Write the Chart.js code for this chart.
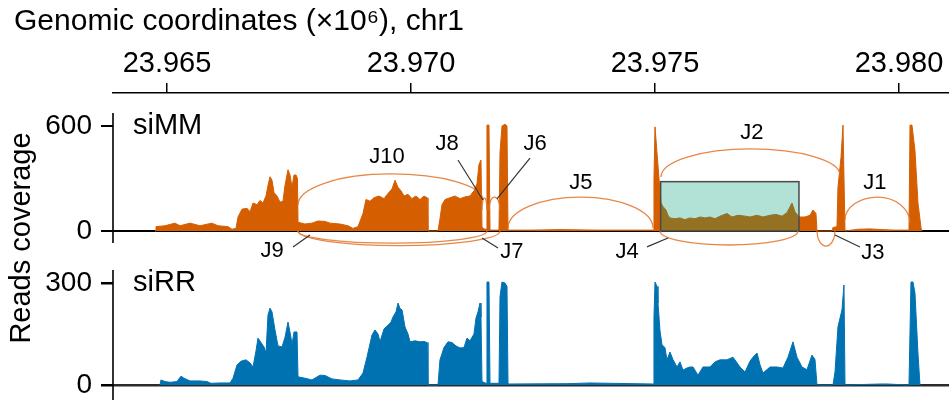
<!DOCTYPE html>
<html>
<head>
<meta charset="utf-8">
<script src="https://cdn.jsdelivr.net/npm/chart.js@4.4.1/dist/chart.umd.min.js"></script>
<style>
html,body{margin:0;padding:0;background:#fff;}
#wrap{width:949px;height:400px;position:relative;}
</style>
</head>
<body>
<div id="wrap"><canvas id="c"></canvas></div>
<script>
// ---------- data (genomic positions in bp, chr1) ----------
const xTickValues = [23965000, 23970000, 23975000, 23980000];
const xTickLabels = ['23.965', '23.970', '23.975', '23.980'];
const simmTicks = [0, 600];
const sirrTicks = [0, 300];

const simmPos = [23964755,23964775,23964959,23965164,23965267,23965472,23965677,23965922,23966045,23966250,
23966332,23966414,23966455,23966537,23966640,23966701,23966763,23966845,23966906,23966967,
23967029,23967070,23967111,23967152,23967193,23967254,23967316,23967377,23967418,23967480,
23967521,23967562,23967603,23967644,23967674,23967685,23967828,23967971,23968094,23968238,
23968340,23968545,23968709,23968812,23968914,23969016,23969078,23969160,23969242,23969344,
23969447,23969529,23969611,23969672,23969734,23969795,23969857,23969939,23970020,23970102,
23970184,23970266,23970328,23970348,23970553,23970594,23970635,23970697,23970799,23970902,
23971004,23971106,23971209,23971291,23971352,23971393,23971434,23971455,23971516,23971537,
23971557,23971598,23971619,23971803,23971824,23971865,23971926,23971967,23971988,23972438,
23973053,23973873,23974692,23974959,23974979,23975000,23975041,23975082,23975123,23975163,
23975225,23975266,23975307,23975409,23975512,23975614,23975717,23975819,23975922,23976024,
23976127,23976229,23976331,23976475,23976577,23976700,23976844,23976946,23977090,23977212,
23977356,23977479,23977602,23977704,23977807,23977868,23977950,23978073,23978176,23978237,
23978298,23978319,23978626,23978647,23978729,23978749,23978811,23978852,23978893,23979159,
23979405,23979651,23979917,23980204,23980225,23980265,23980327,23980388,23980450,23980470];
const simmCov = [0,25,30,45,30,45,30,45,30,25,
10,15,80,125,130,110,160,150,175,160,
200,260,310,290,220,200,165,170,260,350,
320,250,320,320,300,50,40,45,57,55,
45,40,30,15,25,100,180,170,190,200,
185,215,240,290,250,230,200,210,185,200,
180,200,190,0,0,70,150,180,190,200,
185,195,200,230,270,380,405,20,10,10,
605,605,5,5,450,600,610,600,5,5,
8,5,5,5,300,595,445,300,160,140,
120,90,75,70,75,65,75,70,80,75,
80,70,85,100,80,90,85,80,90,80,
90,95,85,105,160,110,80,80,90,120,
100,0,0,20,25,250,420,605,0,10,
12,8,5,5,605,605,460,160,20,0];

const sirrPos = [23964857,23964877,23964959,23965062,23965205,23965287,23965349,23965472,23965677,23965820,
23965902,23966086,23966291,23966353,23966435,23966517,23966619,23966701,23966763,23966824,
23966865,23966926,23966988,23967029,23967070,23967111,23967152,23967213,23967275,23967357,
23967418,23967480,23967541,23967562,23967603,23967664,23967685,23967828,23967971,23968135,
23968238,23968381,23968545,23968750,23968914,23969016,23969098,23969201,23969262,23969324,
23969365,23969447,23969529,23969590,23969631,23969693,23969734,23969775,23969816,23969877,
23969939,23969980,23970082,23970184,23970266,23970328,23970348,23970553,23970594,23970676,
23970758,23970840,23970922,23971004,23971086,23971147,23971209,23971291,23971332,23971373,
23971414,23971434,23971455,23971537,23971557,23971598,23971619,23971803,23971824,23971865,
23971926,23971967,23971988,23973217,23973668,23974959,23974979,23975000,23975041,23975061,
23975102,23975143,23975204,23975245,23975307,23975368,23975450,23975512,23975573,23975655,
23975717,23975778,23975881,23975983,23976127,23976229,23976331,23976475,23976598,23976741,
23976844,23976946,23977008,23977090,23977151,23977212,23977356,23977499,23977622,23977725,
23977827,23977909,23978012,23978114,23978216,23978278,23978319,23978647,23978688,23978749,
23978831,23978872,23978893,23979610,23979753,23980204,23980245,23980286,23980327,23980388,
23980429];
const sirrCov = [0,15,10,8,10,26,20,12,12,10,
5,6,6,20,59,70,74,65,53,100,
138,125,112,94,206,226,215,162,115,112,
140,185,140,118,156,156,24,20,15,29,
28,18,15,12,15,35,82,147,162,150,
127,165,176,185,200,215,241,225,221,171,
150,127,130,127,128,125,0,0,74,110,
127,125,115,109,110,138,130,150,197,215,
241,200,10,5,303,303,5,5,260,303,
300,290,3,4,6,3,200,303,290,241,
160,118,110,74,97,75,53,68,44,50,
53,53,29,53,53,68,74,74,82,53,
38,70,82,94,60,35,53,53,50,82,
127,82,53,45,88,75,0,0,38,171,
221,294,0,3,3,0,303,303,270,94,
0];

// splice junctions (siMM track): start/end in bp, coverage at ends, arc apex (negative = below axis)
const junctionNames = ['J1','J2','J3','J4','J5','J6','J7','J8','J9','J10'];
const junctionStart = [23978893,23975123,23978319,23975102,23971988,23971598,23967685,23971455,23967685,23967685];
const junctionEnd   = [23980225,23978790,23978688,23977930,23974959,23971824,23971824,23971557,23971557,23971475];
const junctionStartCov = [63,309,0,0,17,120,0,120,0,149];
const junctionEndCov   = [46,320,0,0,17,120,0,120,0,177];
const junctionApex     = [194,469,-86,-80,194,194,-83,189,-69,326];

// highlighted region
const boxStart = 23975116, boxEnd = 23977950, boxTop = 282;

// ---------- annotation layout (label anchor + optional leader line) ----------
const labelLayout = {
  J1:  {x: 23979507, y: 274},
  J2:  {x: 23976987, y: 560},
  J3:  {x: 23979466, y: -126, line: [23979200, -91, 23978688, -23]},
  J4:  {x: 23974426, y: -120, line: [23974836, -91, 23975266, -40]},
  J5:  {x: 23973483, y: 274},
  J6:  {x: 23972541, y: 497, line: [23972438, 417, 23971762, 183]},
  J7:  {x: 23972069, y: -120, line: [23971783, -97, 23971455, -40]},
  J8:  {x: 23970738, y: 497, line: [23970963, 406, 23971475, 177]},
  J9:  {x: 23967152, y: -114, line: [23967582, -91, 23967930, -23]},
  J10: {x: 23969508, y: 423}
};

const FONT = "'Liberation Sans', Arial, Helvetica, sans-serif";

function arcPath(ctx, x1, y1, x2, y2, ya) {
  const xm = (x1 + x2) / 2, k = 0.5523;
  ctx.moveTo(x1, y1);
  ctx.bezierCurveTo(x1, y1 + k * (ya - y1), xm - k * (xm - x1), ya, xm, ya);
  ctx.bezierCurveTo(xm + k * (x2 - xm), ya, x2, y2 + k * (ya - y2), x2, y2);
}

const overlay = {
  id: 'overlay',
  afterDatasetsDraw(chart) {
    const ctx = chart.ctx;
    const xs = chart.scales.x, ym = chart.scales.yMM, yr = chart.scales.yRR;
    ctx.save();
    // highlighted box
    const bx1 = xs.getPixelForValue(boxStart), bx2 = xs.getPixelForValue(boxEnd);
    const by1 = ym.getPixelForValue(boxTop), by0 = ym.getPixelForValue(0);
    ctx.fillStyle = 'rgba(0,158,115,0.3)';
    ctx.fillRect(bx1, by1, bx2 - bx1, by0 - by1);
    ctx.strokeStyle = '#4a4a4a';
    ctx.lineWidth = 1.5;
    ctx.strokeRect(bx1, by1, bx2 - bx1, by0 - by1);

    // junction arcs
    ctx.strokeStyle = 'rgba(226,115,40,0.85)';
    ctx.lineWidth = 1.3;
    for (let i = 0; i < junctionNames.length; i++) {
      ctx.beginPath();
      arcPath(ctx,
        xs.getPixelForValue(junctionStart[i]), ym.getPixelForValue(junctionStartCov[i]),
        xs.getPixelForValue(junctionEnd[i]), ym.getPixelForValue(junctionEndCov[i]),
        ym.getPixelForValue(junctionApex[i]));
      ctx.stroke();
    }

    // labels and leader lines
    ctx.fillStyle = '#000';
    ctx.font = '22px ' + FONT;
    ctx.textAlign = 'center';
    ctx.textBaseline = 'middle';
    ctx.strokeStyle = '#333';
    ctx.lineWidth = 1.2;
    junctionNames.forEach(n => {
      const L = labelLayout[n];
      ctx.fillText(n, xs.getPixelForValue(L.x), ym.getPixelForValue(L.y));
      if (L.line) {
        ctx.beginPath();
        ctx.moveTo(xs.getPixelForValue(L.line[0]), ym.getPixelForValue(L.line[1]));
        ctx.lineTo(xs.getPixelForValue(L.line[2]), ym.getPixelForValue(L.line[3]));
        ctx.stroke();
      }
    });

    // track names
    ctx.font = '29px ' + FONT;
    ctx.textAlign = 'left';
    const left = chart.chartArea.left;
    ctx.fillText('siMM', left + 20, ym.getPixelForValue(600));
    ctx.fillText('siRR', left + 20, yr.getPixelForValue(300));

    // axis lines
    ctx.strokeStyle = '#000';
    ctx.lineWidth = 1.6;
    ctx.beginPath();
    ctx.moveTo(left, ym.getPixelForValue(674));
    ctx.lineTo(left, ym.getPixelForValue(-69));
    ctx.moveTo(left, yr.getPixelForValue(338));
    ctx.lineTo(left, yr.bottom);
    ctx.stroke();

    // shared y title
    ctx.save();
    ctx.translate(22, chart.chartArea.top + 145);
    ctx.rotate(-Math.PI / 2);
    ctx.textAlign = 'center';
    ctx.textBaseline = 'middle';
    ctx.font = '29px ' + FONT;
    ctx.fillText('Reads coverage', 0, 0);
    ctx.restore();
    ctx.restore();
  }
};

function zeroGrid(color) {
  return ctx => (ctx.tick && ctx.tick.value === 0) ? color : 'rgba(0,0,0,0)';
}
function fitY(s) {
  s.width = 99;
  s.paddingTop = 0;
  s.paddingBottom = 0;
}

const chart = new Chart(document.getElementById('c'), {
  type: 'line',
  data: {
    datasets: [
      {
        label: 'siMM',
        data: simmPos.map((p, i) => ({x: p, y: simmCov[i]})),
        yAxisID: 'yMM',
        borderColor: '#D55E00',
        backgroundColor: '#D55E00',
        borderWidth: 1,
        fill: 'origin',
        pointRadius: 0,
        tension: 0
      },
      {
        label: 'siRR',
        data: sirrPos.map((p, i) => ({x: p, y: sirrCov[i]})),
        yAxisID: 'yRR',
        borderColor: '#0072B2',
        backgroundColor: '#0072B2',
        borderWidth: 1,
        fill: 'origin',
        pointRadius: 0,
        tension: 0
      }
    ]
  },
  options: {
    responsive: true,
    maintainAspectRatio: false,
    animation: false,
    devicePixelRatio: 1,
    events: [],
    layout: {padding: {left: 14, right: 0, top: 0, bottom: 0}},
    plugins: {
      legend: {display: false},
      tooltip: {enabled: false},
      title: {
        display: true,
        text: 'Genomic coordinates (\u00d710\u2076), chr1',
        align: 'start',
        color: '#000',
        font: {family: FONT, size: 30, weight: 'normal'},
        padding: {top: 4, bottom: 8}
      }
    },
    scales: {
      x: {
        type: 'linear',
        position: 'top',
        min: 23963894,
        max: 23981024,
        afterBuildTicks: s => { s.ticks = xTickValues.map(v => ({value: v})); },
        afterFit: s => { s.height = 45; s.paddingLeft = 0; s.paddingRight = 0; },
        ticks: {
          callback: (v, i) => xTickLabels[i],
          color: '#000',
          font: {family: FONT, size: 29},
          padding: 2,
          maxRotation: 0,
          autoSkip: false
        },
        grid: {drawOnChartArea: false, drawTicks: true, tickLength: 10, tickColor: '#000', lineWidth: 1.5},
        border: {display: true, color: '#000', width: 1.6}
      },
      yRR: {
        type: 'linear',
        position: 'left',
        stack: 'tracks',
        stackWeight: 143,
        min: -44.1,
        max: 376.5,
        afterBuildTicks: s => { s.ticks = sirrTicks.map(v => ({value: v})); },
        afterFit: fitY,
        ticks: {color: '#000', font: {family: FONT, size: 28}, padding: 9, callback: v => String(v)},
        grid: {drawOnChartArea: true, color: zeroGrid('#2b2b2b'), lineWidth: 2.5, tickColor: '#000', tickLength: 12},
        border: {display: false}
      },
      yMM: {
        type: 'linear',
        position: 'left',
        stack: 'tracks',
        stackWeight: 164,
        min: -148.57,
        max: 788.57,
        afterBuildTicks: s => { s.ticks = simmTicks.map(v => ({value: v})); },
        afterFit: fitY,
        ticks: {color: '#000', font: {family: FONT, size: 28}, padding: 9, callback: v => String(v)},
        grid: {drawOnChartArea: true, color: zeroGrid('#000'), lineWidth: 2, tickColor: '#000', tickLength: 12},
        border: {display: false}
      }
    }
  },
  plugins: [overlay]
});
</script>
</body>
</html>
